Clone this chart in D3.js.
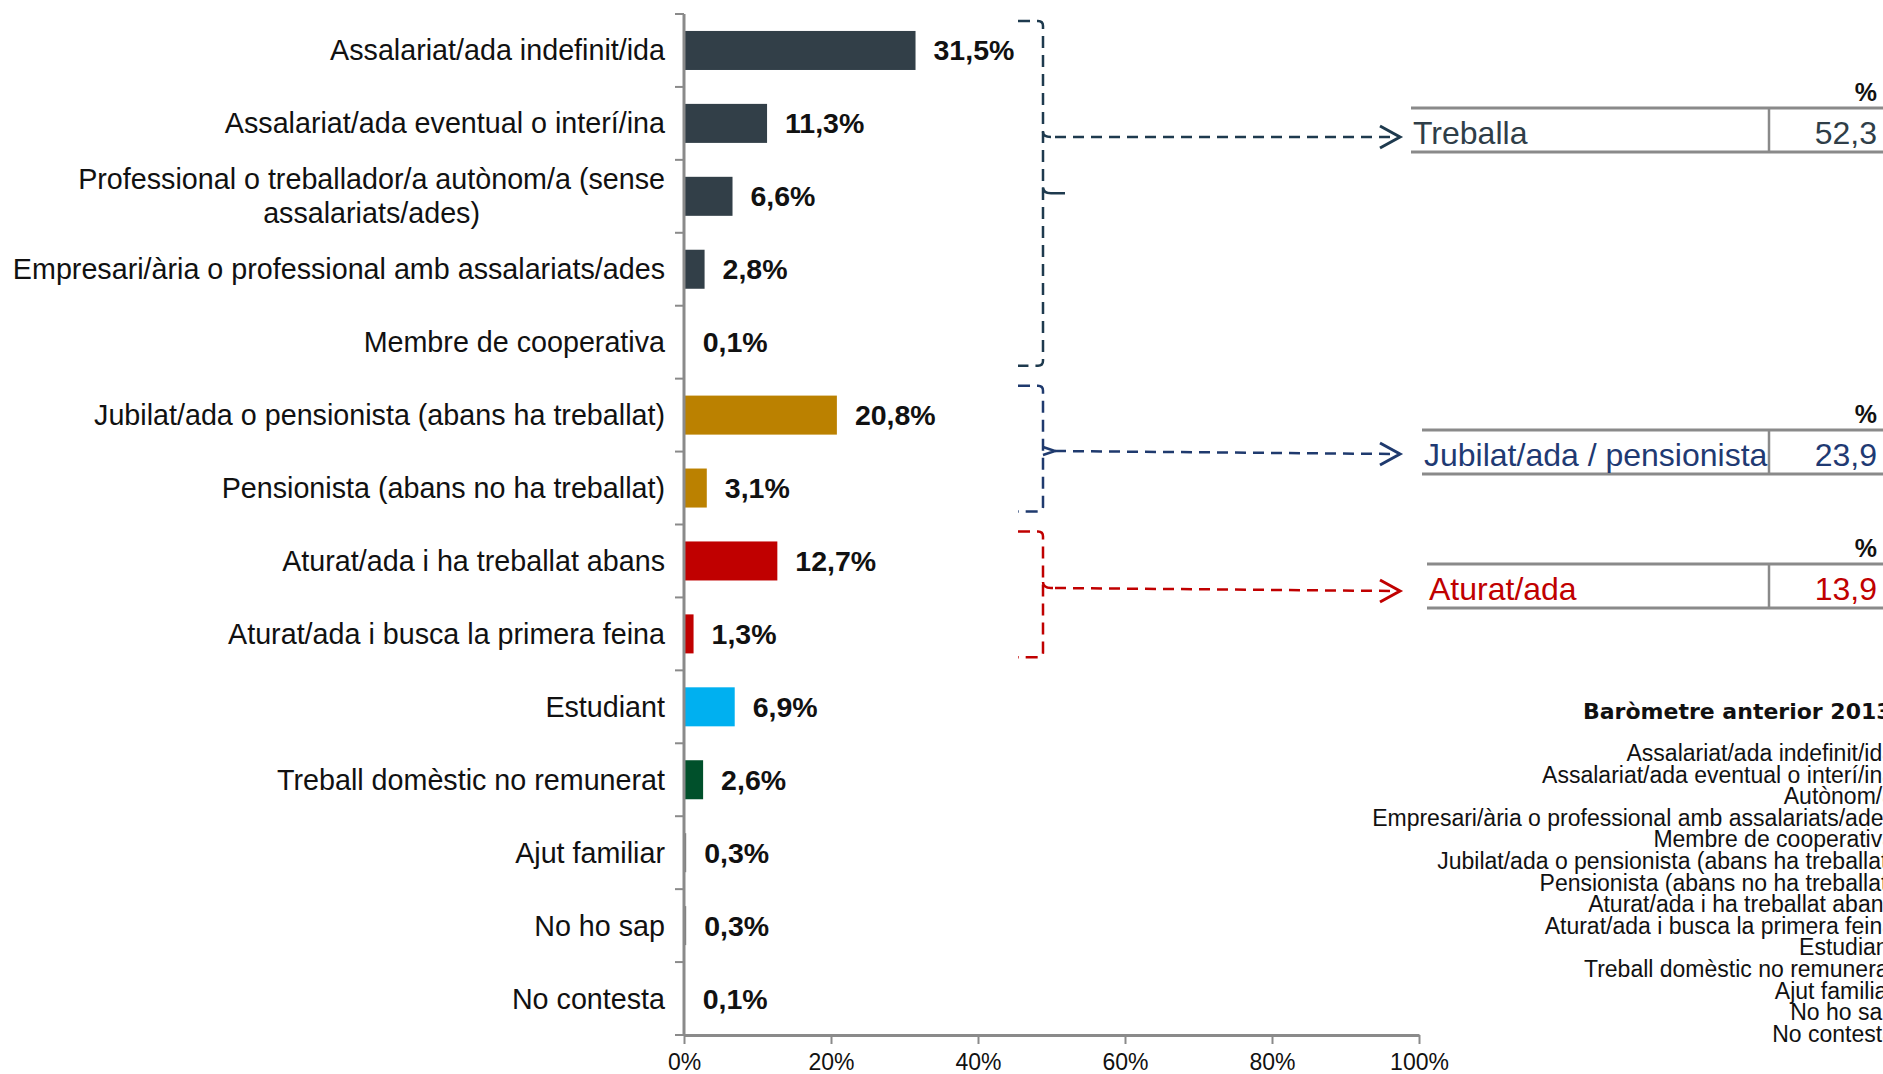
<!DOCTYPE html>
<html>
<head>
<meta charset="utf-8">
<script src="https://cdn.jsdelivr.net/npm/d3@7"></script>
<style>
  body { margin: 0; background: #fff; }
  svg { display: block; }
</style>
</head>
<body>
<div id="chart"></div>
<script>
// categories and values (%)
var categories = [
  "Assalariat/ada indefinit/ida",
  "Assalariat/ada eventual o interí/ina",
  "Professional o treballador/a autònom/a (sense assalariats/ades)",
  "Empresari/ària o professional amb assalariats/ades",
  "Membre de cooperativa",
  "Jubilat/ada o pensionista (abans ha treballat)",
  "Pensionista (abans no ha treballat)",
  "Aturat/ada i ha treballat abans",
  "Aturat/ada i busca la primera feina",
  "Estudiant",
  "Treball domèstic no remunerat",
  "Ajut familiar",
  "No ho sap",
  "No contesta"
];
var values = [31.5, 11.3, 6.6, 2.8, 0.1, 20.8, 3.1, 12.7, 1.3, 6.9, 2.6, 0.3, 0.3, 0.1];
var groups = ["treball", "treball", "treball", "treball", "treball", "jubilat", "jubilat",
              "aturat", "aturat", "estudiant", "domestic", "altres", "altres", "altres"];
var groupColors = {
  treball: "#323F48", jubilat: "#BB8100", aturat: "#C00000",
  estudiant: "#00B0F0", domestic: "#00502B", altres: "#7F7F7F"
};
var xTicks = [0, 20, 40, 60, 80, 100];

// grouped summary on the right
var summaryLabels = ["Treballa", "Jubilat/ada / pensionista", "Aturat/ada"];
var summaryValues = [52.3, 23.9, 13.9];
var summaryColors = ["#2F3E48", "#1F3A73", "#C00000"];
var braceColors = ["#1E3A4E", "#1F3A6E", "#C00000"];
var braceFirst = [0, 5, 7];
var braceLast = [4, 6, 8];

// previous barometer list (cut at the right edge)
var previousTitle = "Baròmetre anterior 2013";
var previousLabels = [
  "Assalariat/ada indefinit/ida",
  "Assalariat/ada eventual o interí/ina",
  "Autònom/a",
  "Empresari/ària o professional amb assalariats/ades",
  "Membre de cooperativa",
  "Jubilat/ada o pensionista (abans ha treballat)",
  "Pensionista (abans no ha treballat)",
  "Aturat/ada i ha treballat abans",
  "Aturat/ada i busca la primera feina",
  "Estudiant",
  "Treball domèstic no remunerat",
  "Ajut familiar",
  "No ho sap",
  "No contesta"
];

var width = 1883, height = 1074;
var font = "'Liberation Sans', Arial, sans-serif";
var axisColor = "#8a8a8a";

var svg = d3.select("#chart").append("svg")
  .attr("width", width)
  .attr("height", height)
  .style("font-family", font);

var x = d3.scaleLinear().domain([0, 100]).range([684, 1419]);
var y = d3.scaleBand().domain(categories).range([14, 1035])
  .paddingInner(0.465).paddingOuter(0.2325);
var step = y.step();
var bandStart = function(i) { return y(categories[i]) - (step - y.bandwidth()) / 2; };
var center = function(i) { return y(categories[i]) + y.bandwidth() / 2; };
var comma = function(v) { return d3.format(".1f")(v).replace(".", ","); };

// bars
svg.selectAll("rect.bar")
  .data(categories)
  .enter()
  .append("rect")
  .attr("class", "bar")
  .attr("x", x(0))
  .attr("y", function(d) { return y(d); })
  .attr("width", function(d, i) { return x(values[i]) - x(0); })
  .attr("height", y.bandwidth())
  .attr("fill", function(d, i) { return groupColors[groups[i]]; });

// value labels
svg.selectAll("text.val")
  .data(categories)
  .enter()
  .append("text")
  .attr("class", "val")
  .attr("x", function(d, i) { return x(values[i]) + 18; })
  .attr("y", function(d, i) { return center(i) + 10; })
  .attr("font-size", "28.5px")
  .attr("font-weight", "bold")
  .attr("fill", "#111")
  .text(function(d, i) { return comma(values[i]) + "%"; });

// category labels, wrapped when too long
var labelRight = 665, maxLabel = 680;
categories.forEach(function(name, i) {
  var t = svg.append("text")
    .attr("font-size", "28.7px")
    .attr("fill", "#111");
  var words = name.split(" "), lines = [], line = [];
  words.forEach(function(w) {
    t.text(line.concat([w]).join(" "));
    if (t.node().getComputedTextLength() > maxLabel && line.length) {
      lines.push(line.join(" "));
      line = [w];
    } else {
      line.push(w);
    }
  });
  lines.push(line.join(" "));
  t.text(null);
  if (lines.length === 1) {
    t.attr("text-anchor", "end")
      .attr("x", labelRight)
      .attr("y", center(i) + 10)
      .text(lines[0]);
  } else {
    var widest = 0;
    lines.forEach(function(l) {
      t.text(l);
      widest = Math.max(widest, t.node().getComputedTextLength());
    });
    t.text(null).attr("text-anchor", "middle");
    var lh = 34, y0 = center(i) + 10 - lh * (lines.length - 1) / 2;
    lines.forEach(function(l, k) {
      t.append("tspan")
        .attr("x", labelRight - widest / 2)
        .attr("y", y0 + k * lh)
        .text(l);
    });
  }
});

// y axis line with ticks at category boundaries
var yAxis = svg.append("g");
yAxis.append("line")
  .attr("x1", x(0)).attr("x2", x(0))
  .attr("y1", y.range()[0]).attr("y2", y.range()[1])
  .attr("stroke", axisColor).attr("stroke-width", 3);
yAxis.selectAll("line.tick")
  .data(d3.range(categories.length + 1))
  .enter()
  .append("line")
  .attr("class", "tick")
  .attr("x1", x(0) - 9).attr("x2", x(0))
  .attr("y1", function(k) { return y.range()[0] + k * step; })
  .attr("y2", function(k) { return y.range()[0] + k * step; })
  .attr("stroke", axisColor).attr("stroke-width", 2);

// x axis
var xAxis = svg.append("g")
  .attr("transform", "translate(0," + y.range()[1] + ")")
  .call(d3.axisBottom(x).tickValues(xTicks).tickSize(9).tickSizeOuter(0)
    .tickPadding(10).tickFormat(function(d) { return d + "%"; }));
xAxis.select(".domain").attr("stroke", axisColor).attr("stroke-width", 3);
xAxis.selectAll(".tick line").attr("stroke", axisColor).attr("stroke-width", 2);
xAxis.selectAll(".tick text")
  .attr("font-size", "23px")
  .attr("font-family", font)
  .attr("fill", "#111");

// summary tables
var tableTop = [108, 430, 564], tableLeft = [1411, 1422, 1427];
var arrowShift = [7, 2, 5];
var rowH = 44, tableRight = width, divider = 1769, valueRight = 1877;
summaryLabels.forEach(function(label, k) {
  var g = svg.append("g");
  var top = tableTop[k], bottom = top + rowH;
  g.append("text")
    .attr("x", valueRight).attr("y", top - 7)
    .attr("text-anchor", "end")
    .attr("font-size", "25px").attr("font-weight", "bold")
    .attr("fill", "#111")
    .text("%");
  [top, bottom].forEach(function(ly) {
    g.append("line")
      .attr("x1", tableLeft[k]).attr("x2", tableRight)
      .attr("y1", ly).attr("y2", ly)
      .attr("stroke", axisColor).attr("stroke-width", 3);
  });
  g.append("line")
    .attr("x1", divider).attr("x2", divider)
    .attr("y1", top).attr("y2", bottom)
    .attr("stroke", axisColor).attr("stroke-width", 2.5);
  g.append("text")
    .attr("x", tableLeft[k] + 2).attr("y", bottom - 8)
    .attr("font-size", "32px")
    .attr("fill", summaryColors[k])
    .text(label);
  g.append("text")
    .attr("x", valueRight).attr("y", bottom - 8)
    .attr("text-anchor", "end")
    .attr("font-size", "32px")
    .attr("fill", summaryColors[k])
    .text(comma(summaryValues[k]));
});

// braces and dashed arrows
var xv = 1043, xl = 1018, r = 5, arrowEnd = 1400;
braceFirst.forEach(function(first, k) {
  var last = braceLast[k];
  var top = bandStart(first) + 7;
  var bottom = bandStart(last) + step - 13;
  var arrowY = tableTop[k] + rowH / 2 + arrowShift[k];
  var tipY = k === 0 ? (top + bottom) / 2 : arrowY - 3;
  var col = braceColors[k];
  var g = svg.append("g")
    .attr("fill", "none").attr("stroke", col).attr("stroke-width", 2.5);

  var p = d3.path();
  p.moveTo(xl, top);
  p.lineTo(xv - r, top);
  p.quadraticCurveTo(xv, top, xv, top + r);
  p.lineTo(xv, bottom - r);
  p.quadraticCurveTo(xv, bottom, xv - r, bottom);
  p.lineTo(xl, bottom);
  g.append("path").attr("d", p.toString()).attr("stroke-dasharray", "12,7");

  // brace tip
  if (k === 1) {
    g.append("path")
      .attr("d", "M" + xv + "," + (tipY - 4) + "L" + (xv + 12) + "," + tipY + "L" + xv + "," + (tipY + 4));
  } else {
    var tp = d3.path();
    tp.moveTo(xv, tipY - 6);
    tp.quadraticCurveTo(xv, tipY, xv + 8, tipY);
    tp.lineTo(xv + (k === 0 ? 22 : 10), tipY);
    g.append("path").attr("d", tp.toString());
  }

  // arrow
  g.append("line")
    .attr("x1", xv + 12).attr("x2", arrowEnd - 4)
    .attr("y1", k === 0 ? arrowY : tipY).attr("y2", arrowY)
    .attr("stroke-dasharray", "11,7");
  if (k === 0) {
    g.append("path")
      .attr("d", "M" + xv + "," + (arrowY - 5) + "Q" + xv + "," + arrowY + " " + (xv + 8) + "," + arrowY);
  }
  g.append("path")
    .attr("d", "M" + (arrowEnd - 20) + "," + (arrowY - 11) + "L" + arrowEnd + "," + arrowY +
      "L" + (arrowEnd - 20) + "," + (arrowY + 11))
    .attr("stroke-width", 3);
});

// previous barometer
svg.append("text")
  .attr("x", 1583).attr("y", 719)
  .attr("font-family", "'DejaVu Sans', Verdana, sans-serif")
  .attr("font-size", "22px").attr("font-weight", "bold")
  .attr("fill", "#111")
  .text(previousTitle);
svg.selectAll("text.prev")
  .data(previousLabels)
  .enter()
  .append("text")
  .attr("class", "prev")
  .attr("x", 1895)
  .attr("y", function(d, i) { return 761 + i * 21.6; })
  .attr("text-anchor", "end")
  .attr("font-size", "23px")
  .attr("fill", "#111")
  .text(function(d) { return d; });
</script>
</body>
</html>
